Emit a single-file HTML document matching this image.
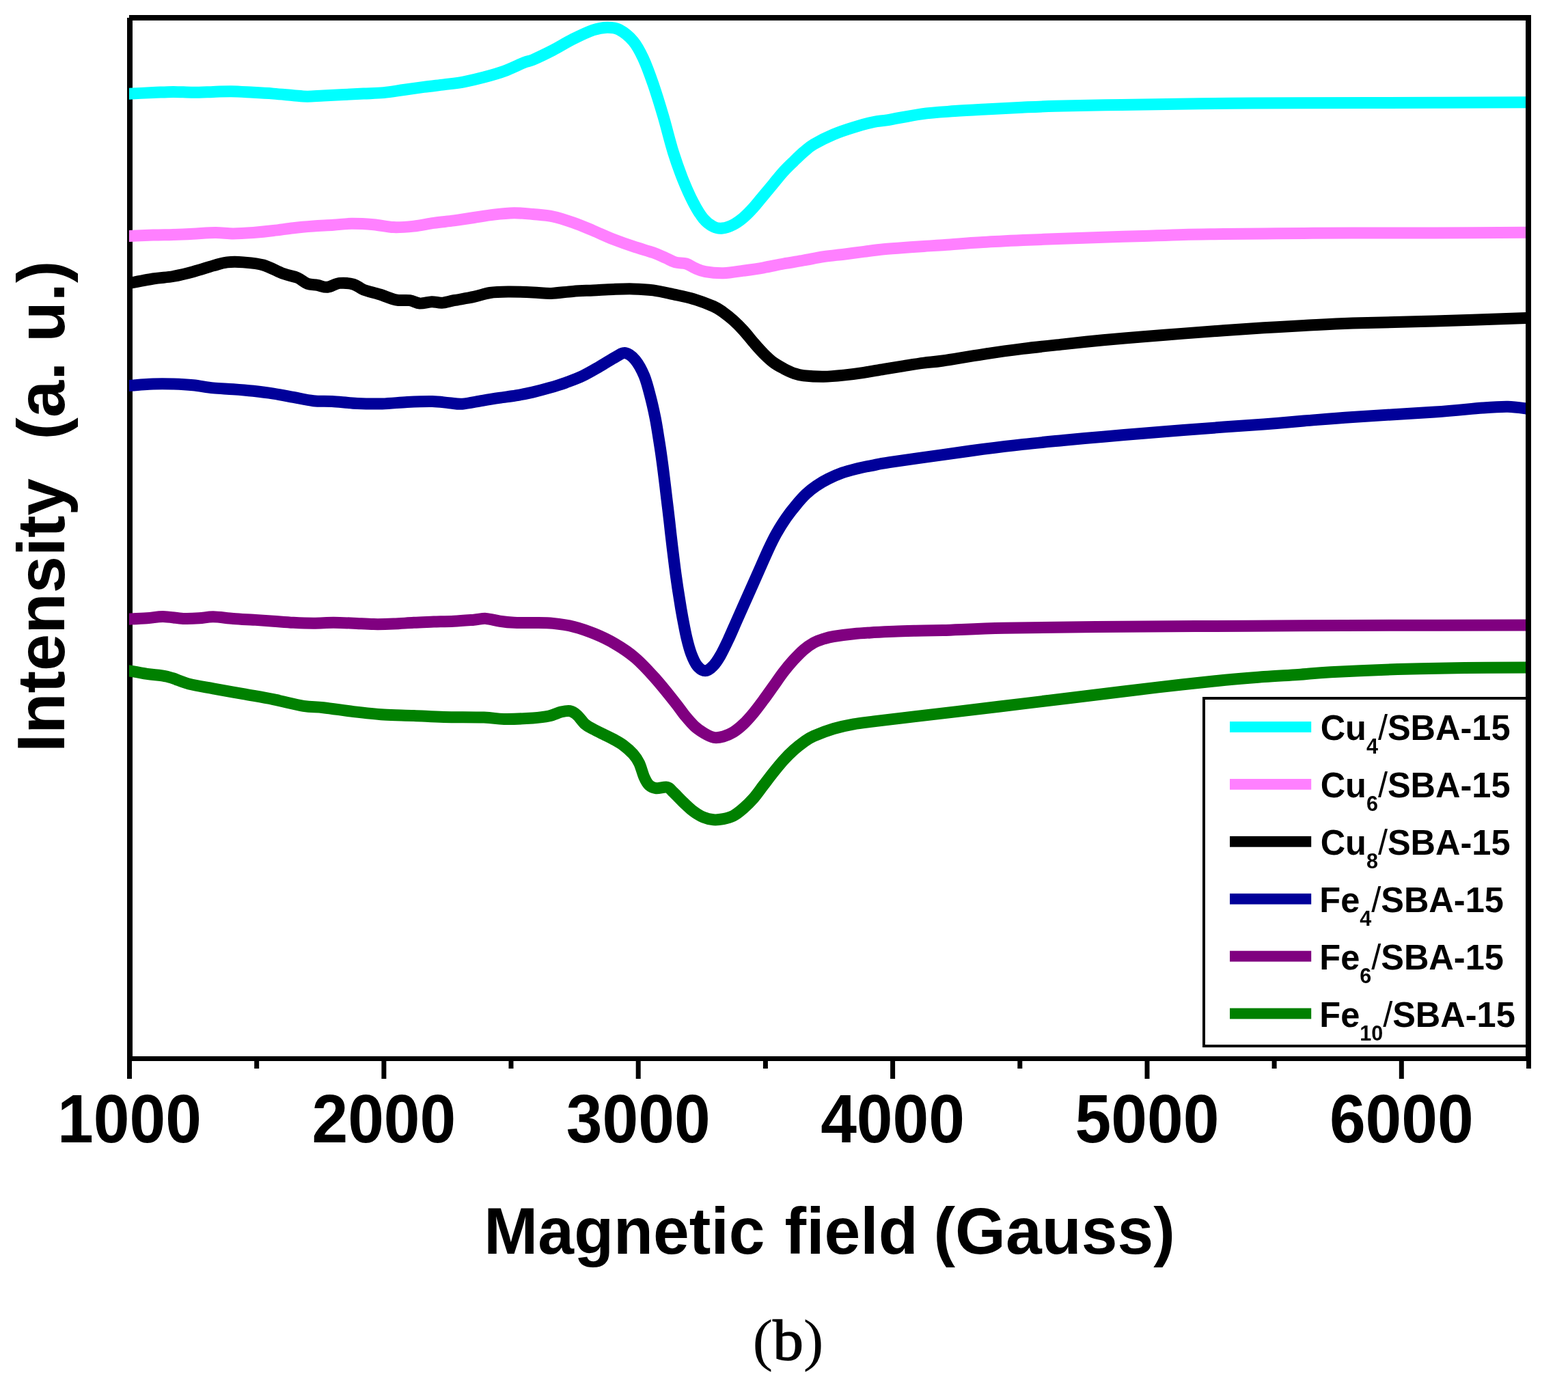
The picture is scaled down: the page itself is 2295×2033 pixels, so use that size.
<!DOCTYPE html>
<html lang="en"><head><meta charset="utf-8"><title>EPR spectra</title>
<style>
html,body{margin:0;padding:0;background:#fff;}
body{width:2295px;height:2033px;overflow:hidden;}
svg{display:block;}
text{font-family:"Liberation Sans",sans-serif;font-weight:bold;fill:#000;}
.cap{font-family:"Liberation Serif","DejaVu Serif",serif;font-weight:normal;}
</style></head><body>
<svg width="2295" height="2033" viewBox="0 0 2295 2033">
<rect x="0" y="0" width="2295" height="2033" fill="#fff"/>
<defs><clipPath id="plot"><rect x="189" y="26" width="2044" height="1520"/></clipPath></defs>
<g fill="#000">
<rect x="186" y="26" width="8" height="1527"/>
<rect x="189" y="22" width="2052" height="8"/>
<rect x="2233" y="26" width="8" height="1527"/>
<rect x="189" y="1546" width="2052" height="7"/>
<rect x="186.0" y="1552" width="7" height="27.0"/>
<rect x="372.2" y="1552" width="7" height="12.0"/>
<rect x="558.4" y="1552" width="7" height="27.0"/>
<rect x="744.5" y="1552" width="7" height="12.0"/>
<rect x="930.7" y="1552" width="7" height="27.0"/>
<rect x="1116.9" y="1552" width="7" height="12.0"/>
<rect x="1303.1" y="1552" width="7" height="27.0"/>
<rect x="1489.3" y="1552" width="7" height="12.0"/>
<rect x="1675.5" y="1552" width="7" height="27.0"/>
<rect x="1861.6" y="1552" width="7" height="12.0"/>
<rect x="2047.8" y="1552" width="7" height="27.0"/>
<rect x="2234.0" y="1552" width="7" height="12.0"/>
</g>
<g clip-path="url(#plot)" fill="none" stroke-width="17" stroke-linejoin="round" stroke-linecap="butt">
<path d="M183.0,137.4 C189.8,137.1 212.3,136.1 224.0,135.6 C235.8,135.1 243.6,134.5 253.4,134.4 C263.2,134.4 272.9,135.3 282.7,135.3 C292.5,135.3 302.8,134.7 312.1,134.4 C321.4,134.2 328.7,133.7 338.5,133.8 C348.3,134.0 360.5,134.8 370.8,135.3 C381.1,135.8 390.4,136.3 400.1,137.1 C409.9,137.8 421.2,139.0 429.5,139.7 C437.8,140.4 442.7,141.1 450.0,141.2 C457.4,141.2 464.7,140.4 473.5,140.0 C482.3,139.6 493.1,139.0 502.9,138.5 C512.6,138.0 522.4,137.6 532.2,137.1 C542.0,136.6 551.8,136.5 561.6,135.6 C571.4,134.7 581.1,132.9 590.9,131.5 C600.7,130.1 610.5,128.7 620.3,127.4 C630.1,126.1 639.8,125.1 649.6,123.9 C659.4,122.6 669.2,121.6 679.0,119.8 C688.8,117.9 698.5,115.6 708.3,113.0 C718.1,110.4 727.9,107.8 737.7,104.2 C747.5,100.6 760.0,94.4 767.0,91.6 C774.1,88.8 772.9,90.5 780.0,87.5 C787.1,84.4 799.6,78.4 809.4,73.4 C819.1,68.3 828.9,62.1 838.7,57.2 C848.5,52.3 859.7,46.9 868.1,44.0 C876.4,41.2 882.2,40.3 888.6,40.2 C895.0,40.1 899.9,40.1 906.2,43.4 C912.6,46.8 920.9,53.2 926.8,60.2 C932.6,67.1 936.5,74.6 941.4,85.1 C946.3,95.6 951.2,109.1 956.1,123.3 C961.0,137.5 965.9,153.6 970.8,170.2 C975.7,186.9 980.6,207.4 985.5,223.1 C990.4,238.7 995.2,251.9 1000.1,264.2 C1005.0,276.4 1009.9,287.2 1014.8,296.4 C1019.7,305.7 1024.6,314.1 1029.5,319.9 C1034.4,325.8 1039.5,329.3 1044.2,331.7 C1048.8,334.0 1052.5,334.5 1057.4,334.0 C1062.3,333.5 1068.4,331.3 1073.5,328.7 C1078.6,326.1 1083.3,322.6 1088.2,318.5 C1093.1,314.3 1098.0,309.2 1102.9,303.8 C1107.8,298.4 1112.6,292.0 1117.5,286.2 C1122.4,280.3 1127.3,274.4 1132.2,268.6 C1137.1,262.7 1142.0,256.3 1146.9,251.0 C1151.8,245.6 1156.7,241.0 1161.6,236.3 C1166.5,231.5 1171.4,226.6 1176.2,222.5 C1181.1,218.3 1183.6,215.6 1190.9,211.3 C1198.3,207.0 1210.5,200.8 1220.3,196.7 C1230.1,192.5 1239.8,189.4 1249.6,186.4 C1259.4,183.3 1270.6,180.3 1279.0,178.5 C1287.4,176.7 1288.3,177.5 1300.0,175.6 C1311.7,173.7 1332.6,169.0 1348.9,166.8 C1365.2,164.6 1381.5,163.8 1397.8,162.6 C1414.1,161.4 1430.5,160.6 1446.8,159.7 C1463.1,158.8 1479.4,157.9 1495.7,157.2 C1512.0,156.5 1524.2,155.9 1544.6,155.3 C1565.0,154.7 1593.5,154.1 1618.0,153.7 C1642.5,153.3 1661.1,153.2 1691.4,152.8 C1721.7,152.4 1765.2,151.5 1800.0,151.2 C1834.8,150.9 1850.0,151.0 1900.0,150.8 C1950.0,150.6 2043.8,150.4 2100.0,150.2 C2156.2,150.0 2214.2,149.9 2237.0,149.8" stroke="#00FFFF"/>
<path d="M183.0,345.8 C189.8,345.5 212.3,344.4 224.0,344.0 C235.8,343.6 243.6,343.7 253.4,343.4 C263.2,343.1 272.5,342.7 282.7,342.2 C293.0,341.7 305.2,340.5 315.0,340.5 C324.8,340.4 332.1,341.9 341.4,341.9 C350.7,341.9 361.0,341.2 370.8,340.5 C380.6,339.7 390.4,338.7 400.1,337.5 C409.9,336.4 419.7,334.8 429.5,333.7 C439.3,332.6 449.1,331.8 458.8,331.1 C468.6,330.3 478.9,330.0 488.2,329.3 C497.5,328.7 504.8,327.4 514.6,327.3 C524.4,327.2 536.6,327.9 546.9,328.7 C557.2,329.6 566.5,332.2 576.2,332.6 C586.0,332.9 595.8,332.1 605.6,331.1 C615.4,330.1 625.2,327.8 634.9,326.4 C644.7,325.0 654.5,324.2 664.3,322.9 C674.1,321.5 683.9,319.9 693.6,318.5 C703.4,317.0 713.2,315.2 723.0,314.1 C732.8,312.9 742.9,311.8 752.4,311.7 C761.9,311.6 770.5,312.6 780.0,313.5 C789.5,314.4 799.6,314.9 809.4,317.0 C819.1,319.0 828.9,322.4 838.7,325.8 C848.5,329.2 858.3,333.5 868.1,337.5 C877.8,341.6 887.6,346.3 897.4,350.2 C907.2,354.0 917.0,357.5 926.8,360.7 C936.5,364.0 948.3,367.1 956.1,369.8 C963.9,372.6 968.3,374.8 973.7,377.2 C979.1,379.5 983.3,382.4 988.4,383.9 C993.5,385.4 999.6,384.5 1004.5,386.0 C1009.4,387.4 1013.1,390.8 1017.7,392.7 C1022.4,394.7 1025.6,396.5 1032.4,397.7 C1039.3,398.9 1049.5,400.0 1058.8,399.8 C1068.1,399.5 1078.4,397.6 1088.2,396.2 C1098.0,394.9 1107.8,393.6 1117.5,391.8 C1127.3,390.1 1137.1,387.8 1146.9,386.0 C1156.7,384.2 1166.5,382.7 1176.2,381.0 C1186.0,379.3 1195.8,377.2 1205.6,375.7 C1215.4,374.2 1225.2,373.4 1234.9,372.2 C1244.7,371.0 1254.5,369.6 1264.3,368.4 C1274.1,367.1 1283.9,365.8 1293.6,364.8 C1303.4,363.9 1313.2,363.2 1323.0,362.5 C1332.8,361.8 1342.9,361.1 1352.4,360.4 C1361.9,359.8 1365.6,359.7 1380.0,358.7 C1394.4,357.7 1419.1,355.7 1438.7,354.6 C1458.3,353.4 1477.8,352.5 1497.4,351.6 C1517.0,350.7 1536.5,350.0 1556.1,349.3 C1575.7,348.5 1595.2,347.9 1614.8,347.2 C1634.4,346.6 1653.9,346.1 1673.5,345.5 C1693.1,344.8 1712.6,343.9 1732.2,343.4 C1751.8,342.9 1771.4,342.8 1790.9,342.5 C1810.5,342.3 1830.1,342.1 1849.6,341.9 C1869.2,341.7 1886.6,341.5 1908.3,341.4 C1930.0,341.2 1948.0,341.1 1979.9,341.1 C2011.9,341.0 2057.2,341.1 2100.0,341.0 C2142.8,340.9 2214.2,340.3 2237.0,340.2" stroke="#FF80FF"/>
<path d="M183.0,415.8 C189.8,414.5 212.3,409.9 224.0,408.0 C235.8,406.1 243.6,406.2 253.4,404.5 C263.2,402.7 272.9,400.3 282.7,397.7 C292.5,395.1 303.8,391.2 312.1,388.9 C320.4,386.6 325.3,384.7 332.6,383.9 C340.0,383.1 347.3,383.2 356.1,383.9 C364.9,384.6 375.7,385.2 385.5,388.0 C395.2,390.8 406.5,397.6 414.8,400.6 C423.1,403.7 429.5,404.1 435.4,406.5 C441.2,409.0 445.1,413.5 450.0,415.3 C454.9,417.1 459.8,416.5 464.7,417.4 C469.6,418.2 474.0,420.8 479.4,420.3 C484.8,419.8 490.6,415.1 497.0,414.4 C503.4,413.8 511.7,414.6 517.5,416.2 C523.4,417.8 525.9,421.7 532.2,424.1 C538.6,426.6 547.9,428.4 555.7,430.9 C563.5,433.3 571.8,437.3 579.2,438.8 C586.5,440.3 593.9,438.8 599.7,439.7 C605.6,440.6 609.0,443.7 614.4,444.1 C619.8,444.4 626.6,441.9 632.0,441.7 C637.4,441.6 641.3,443.5 646.7,443.2 C652.1,442.9 656.5,441.2 664.3,439.7 C672.1,438.2 684.8,436.3 693.6,434.4 C702.5,432.5 708.8,429.8 717.1,428.5 C725.4,427.3 733.1,427.2 743.5,427.1 C754.0,427.0 769.5,427.5 780.0,427.9 C790.5,428.3 796.6,429.6 806.4,429.4 C816.2,429.1 828.4,427.1 838.7,426.4 C849.0,425.7 858.3,425.4 868.1,424.9 C877.8,424.5 887.6,423.8 897.4,423.5 C907.2,423.1 917.0,422.6 926.8,422.9 C936.5,423.1 946.3,423.6 956.1,424.9 C965.9,426.3 975.7,428.7 985.5,430.8 C995.2,432.9 1005.0,434.6 1014.8,437.6 C1024.6,440.5 1036.8,445.2 1044.2,448.4 C1051.5,451.7 1053.9,453.8 1058.8,457.2 C1063.7,460.7 1068.6,464.6 1073.5,469.0 C1078.4,473.4 1083.3,478.3 1088.2,483.7 C1093.1,489.0 1098.0,495.6 1102.9,501.3 C1107.8,506.9 1112.6,512.5 1117.5,517.4 C1122.4,522.3 1127.3,526.9 1132.2,530.6 C1137.1,534.3 1142.0,536.8 1146.9,539.4 C1151.8,542.0 1156.7,544.5 1161.6,546.2 C1166.5,547.9 1168.9,548.9 1176.2,549.7 C1183.6,550.5 1195.8,551.3 1205.6,551.2 C1215.4,551.1 1225.2,550.1 1234.9,549.1 C1244.7,548.1 1254.5,546.8 1264.3,545.3 C1274.1,543.8 1283.9,541.9 1293.6,540.3 C1303.4,538.7 1313.2,537.1 1323.0,535.6 C1332.8,534.1 1342.9,532.5 1352.4,531.2 C1361.9,529.9 1365.6,530.1 1380.0,528.0 C1394.4,525.9 1419.1,521.5 1438.7,518.6 C1458.3,515.6 1477.8,512.8 1497.4,510.4 C1517.0,507.9 1536.5,506.0 1556.1,503.9 C1575.7,501.8 1595.2,499.6 1614.8,497.7 C1634.4,495.9 1653.9,494.4 1673.5,492.8 C1693.1,491.1 1712.6,489.6 1732.2,488.1 C1751.8,486.5 1771.4,485.0 1790.9,483.7 C1810.5,482.3 1830.1,481.0 1849.6,479.8 C1869.2,478.7 1886.6,477.7 1908.3,476.6 C1930.0,475.5 1948.0,474.2 1979.9,473.1 C2011.9,472.0 2057.2,471.3 2100.0,470.0 C2142.8,468.7 2214.2,466.2 2237.0,465.4" stroke="#000000"/>
<path d="M183.0,564.9 C189.8,564.4 212.3,562.5 224.0,562.0 C235.8,561.5 243.6,561.7 253.4,562.0 C263.2,562.3 272.9,562.8 282.7,563.8 C292.5,564.8 302.3,566.9 312.1,567.9 C321.9,568.9 331.6,568.9 341.4,569.7 C351.2,570.4 361.0,571.2 370.8,572.3 C380.6,573.4 390.4,574.6 400.1,576.1 C409.9,577.6 419.7,579.6 429.5,581.4 C439.3,583.2 449.4,585.7 458.8,586.7 C468.3,587.7 475.4,586.9 486.0,587.5 C496.6,588.1 510.5,589.9 522.7,590.4 C534.9,591.0 547.2,591.3 559.4,590.9 C571.6,590.6 583.8,589.1 596.1,588.5 C608.3,587.9 622.6,587.3 632.8,587.5 C643.0,587.7 649.9,589.1 657.2,589.7 C664.6,590.3 668.6,591.7 676.8,591.2 C685.0,590.6 697.2,587.7 706.2,586.3 C715.1,584.8 722.5,583.6 730.6,582.4 C738.8,581.1 746.9,580.3 755.1,578.9 C763.2,577.6 771.4,575.9 779.5,574.1 C787.7,572.2 795.8,570.1 804.0,567.7 C812.2,565.3 820.3,562.8 828.5,559.9 C836.6,556.9 844.8,554.0 852.9,550.1 C861.1,546.2 869.2,541.3 877.4,536.6 C885.5,531.9 895.6,525.3 901.9,521.9 C908.1,518.6 910.5,515.8 915.2,516.6 C919.8,517.4 925.2,521.2 929.8,526.8 C934.4,532.4 939.3,541.4 943.0,550.2 C946.6,559.0 949.1,569.2 951.7,579.5 C954.4,589.7 957.0,601.4 959.1,611.7 C961.1,621.9 962.5,631.2 964.0,640.9 C965.6,650.7 967.1,660.4 968.4,670.2 C969.8,680.0 971.0,689.7 972.2,699.5 C973.4,709.2 974.6,719.0 975.7,728.7 C976.9,738.5 978.1,748.2 979.2,758.0 C980.4,767.7 981.3,777.5 982.5,787.2 C983.6,797.0 984.8,806.7 986.0,816.5 C987.2,826.3 988.4,836.0 989.8,845.8 C991.1,855.5 992.6,865.3 994.2,875.0 C995.7,884.8 997.3,894.5 999.1,904.3 C1001.0,914.0 1002.9,924.8 1005.0,933.5 C1007.1,942.3 1009.1,950.1 1011.7,957.0 C1014.3,963.8 1017.1,970.4 1020.5,974.5 C1023.9,978.7 1028.3,981.8 1032.2,981.8 C1036.1,981.8 1040.3,978.2 1043.9,974.5 C1047.6,970.9 1050.5,966.2 1054.2,959.9 C1057.8,953.5 1062.0,944.8 1065.9,936.5 C1069.8,928.2 1073.7,918.9 1077.6,910.1 C1081.5,901.4 1085.4,892.6 1089.3,883.8 C1093.2,875.0 1097.1,866.2 1101.0,857.5 C1104.9,848.7 1108.8,839.9 1112.7,831.1 C1116.6,822.4 1120.5,813.1 1124.4,804.8 C1128.3,796.5 1131.7,789.2 1136.1,781.4 C1140.5,773.6 1145.8,765.1 1150.7,758.0 C1155.6,750.9 1160.5,744.8 1165.4,739.0 C1170.2,733.1 1175.1,727.5 1180.0,722.9 C1184.9,718.2 1189.2,714.8 1194.6,711.2 C1200.0,707.5 1205.8,704.1 1212.2,700.9 C1218.5,697.8 1225.8,694.6 1232.7,692.1 C1239.5,689.7 1245.8,688.1 1253.1,686.3 C1260.4,684.5 1268.4,682.9 1276.5,681.3 C1284.7,679.7 1284.8,679.2 1302.0,676.6 C1319.2,674.0 1357.2,668.8 1380.0,665.6 C1402.8,662.4 1419.1,660.0 1438.7,657.4 C1458.3,654.9 1477.8,652.5 1497.4,650.4 C1517.0,648.2 1536.5,646.4 1556.1,644.5 C1575.7,642.6 1595.2,640.9 1614.8,639.2 C1634.4,637.5 1653.9,635.8 1673.5,634.2 C1693.1,632.6 1712.6,631.0 1732.2,629.5 C1751.8,628.0 1771.4,626.5 1790.9,625.1 C1810.5,623.7 1830.1,622.5 1849.6,621.0 C1869.2,619.5 1886.6,617.8 1908.3,616.0 C1930.0,614.3 1948.0,612.6 1979.9,610.4 C2011.9,608.3 2068.3,605.2 2100.0,603.0 C2131.7,600.8 2152.2,598.3 2170.0,597.0 C2187.8,595.7 2195.8,595.1 2207.0,595.3 C2218.2,595.5 2232.0,597.9 2237.0,598.4" stroke="#000099"/>
<path d="M183.0,906.4 C188.4,906.1 205.9,905.5 215.2,904.8 C224.5,904.2 229.9,902.4 238.7,902.5 C247.5,902.6 259.2,905.0 268.1,905.4 C276.9,905.8 284.2,905.3 291.5,904.8 C298.9,904.4 303.8,902.7 312.1,902.8 C320.4,902.9 331.6,904.7 341.4,905.4 C351.2,906.2 361.0,906.6 370.8,907.2 C380.6,907.8 390.4,908.6 400.1,909.2 C409.9,909.9 419.7,910.8 429.5,911.3 C439.3,911.8 449.1,912.2 458.8,912.2 C468.6,912.2 478.4,911.3 488.2,911.3 C498.0,911.3 507.8,911.8 517.5,912.2 C527.3,912.6 537.1,913.5 546.9,913.6 C556.7,913.8 566.5,913.5 576.2,913.1 C586.0,912.7 595.8,911.8 605.6,911.3 C615.4,910.8 625.2,910.5 634.9,910.1 C644.7,909.8 654.5,909.7 664.3,909.2 C674.1,908.8 685.8,907.8 693.6,907.2 C701.5,906.6 704.9,905.1 711.3,905.4 C717.6,905.8 725.0,908.3 731.8,909.2 C738.7,910.2 744.3,910.9 752.4,911.3 C760.4,911.7 770.5,911.3 780.0,911.5 C789.5,911.7 799.3,911.4 809.4,912.4 C819.4,913.4 830.0,914.9 840.2,917.4 C850.3,919.9 860.4,923.5 870.4,927.7 C880.4,931.8 890.5,936.5 900.3,942.4 C910.2,948.2 920.0,954.6 929.7,962.9 C939.4,971.2 948.8,981.5 958.5,992.3 C968.1,1003.0 980.3,1018.4 987.5,1027.5 C994.8,1036.5 997.1,1040.7 1001.9,1046.6 C1006.7,1052.4 1011.5,1058.3 1016.3,1062.7 C1021.0,1067.1 1025.6,1070.2 1030.4,1073.0 C1035.1,1075.8 1040.0,1078.6 1044.7,1079.4 C1049.5,1080.3 1054.0,1079.3 1058.8,1078.0 C1063.6,1076.6 1068.6,1074.5 1073.5,1071.5 C1078.4,1068.5 1083.3,1064.4 1088.2,1059.8 C1093.1,1055.1 1098.0,1049.5 1102.9,1043.6 C1107.8,1037.7 1112.6,1031.1 1117.5,1024.5 C1122.4,1017.9 1127.3,1010.8 1132.2,1004.0 C1137.1,997.1 1142.0,989.8 1146.9,983.4 C1151.8,977.1 1156.7,971.2 1161.6,965.8 C1166.5,960.5 1171.4,955.3 1176.2,951.2 C1181.1,947.0 1186.0,943.6 1190.9,940.9 C1195.8,938.2 1200.7,936.6 1205.6,935.0 C1210.5,933.5 1212.9,932.7 1220.3,931.5 C1227.6,930.3 1239.8,928.7 1249.6,927.7 C1259.4,926.7 1269.2,926.2 1279.0,925.6 C1288.8,925.0 1298.5,924.5 1308.3,924.2 C1318.1,923.8 1325.7,923.6 1337.7,923.3 C1349.6,923.0 1358.0,923.1 1380.0,922.5 C1402.0,921.8 1432.2,920.2 1469.5,919.3 C1506.8,918.5 1544.1,918.1 1603.8,917.6 C1663.5,917.0 1753.0,916.6 1827.6,916.2 C1902.3,915.8 1983.2,915.5 2051.5,915.3 C2119.7,915.1 2206.3,914.9 2237.2,914.9" stroke="#800080"/>
<path d="M183.0,980.7 C188.4,981.6 205.0,984.8 215.2,986.4 C225.5,988.0 234.3,987.8 244.6,990.2 C254.8,992.6 265.6,998.1 276.9,1001.1 C288.1,1004.0 298.9,1005.4 312.1,1007.8 C325.3,1010.3 341.4,1013.1 356.1,1015.7 C370.8,1018.4 385.5,1020.7 400.1,1023.7 C414.8,1026.6 431.9,1031.3 444.2,1033.3 C456.4,1035.3 461.3,1034.3 473.5,1035.7 C485.7,1037.1 502.9,1039.8 517.5,1041.6 C532.2,1043.3 546.9,1045.0 561.6,1046.0 C576.2,1046.9 590.9,1046.8 605.6,1047.4 C620.3,1048.0 632.5,1049.0 649.6,1049.5 C666.7,1049.9 693.6,1049.6 708.3,1050.1 C723.0,1050.6 725.7,1052.3 737.7,1052.4 C749.6,1052.6 769.0,1051.7 780.0,1051.0 C791.0,1050.2 796.6,1049.5 803.5,1048.0 C810.3,1046.6 816.0,1043.4 821.1,1042.1 C826.2,1040.9 830.4,1039.9 834.3,1040.7 C838.2,1041.4 840.9,1043.4 844.6,1046.6 C848.2,1049.7 852.4,1056.3 856.3,1059.8 C860.2,1063.2 863.7,1064.7 868.1,1067.1 C872.5,1069.5 877.8,1072.0 882.7,1074.4 C887.6,1076.9 892.5,1079.1 897.4,1081.8 C902.3,1084.5 907.2,1086.9 912.1,1090.6 C917.0,1094.2 922.8,1099.4 926.8,1103.8 C930.7,1108.2 932.9,1111.4 935.6,1117.0 C938.3,1122.6 940.5,1132.2 942.9,1137.5 C945.3,1142.9 947.3,1146.6 950.2,1149.3 C953.2,1152.0 956.1,1153.2 960.5,1153.7 C964.9,1154.2 972.5,1151.2 976.7,1152.2 C980.8,1153.2 981.5,1155.9 985.5,1159.6 C989.4,1163.2 995.2,1169.6 1000.1,1174.2 C1005.0,1178.9 1009.9,1183.8 1014.8,1187.4 C1019.7,1191.1 1024.6,1194.2 1029.5,1196.2 C1034.4,1198.3 1039.3,1199.4 1044.2,1199.8 C1049.1,1200.2 1053.9,1199.6 1058.8,1198.6 C1063.7,1197.6 1068.6,1196.5 1073.5,1193.9 C1078.4,1191.3 1083.3,1187.3 1088.2,1183.0 C1093.1,1178.8 1098.0,1174.0 1102.9,1168.4 C1107.8,1162.7 1112.6,1155.6 1117.5,1149.3 C1122.4,1142.9 1127.3,1136.3 1132.2,1130.2 C1137.1,1124.1 1142.0,1118.0 1146.9,1112.6 C1151.8,1107.2 1156.7,1102.3 1161.6,1097.9 C1166.5,1093.5 1171.4,1089.6 1176.2,1086.2 C1181.1,1082.8 1183.6,1080.6 1190.9,1077.4 C1198.3,1074.1 1210.5,1069.4 1220.3,1066.5 C1230.1,1063.6 1239.8,1061.5 1249.6,1059.8 C1259.4,1058.0 1269.2,1057.2 1279.0,1055.9 C1288.8,1054.7 1298.5,1053.6 1308.3,1052.4 C1318.1,1051.2 1322.4,1050.7 1337.7,1048.9 C1353.0,1047.1 1372.9,1044.8 1400.0,1041.6 C1427.1,1038.4 1467.0,1033.6 1500.0,1029.6 C1533.0,1025.6 1565.2,1021.7 1597.8,1017.7 C1630.4,1013.8 1663.1,1009.6 1695.7,1005.9 C1728.3,1002.1 1767.8,997.8 1793.5,995.2 C1819.2,992.7 1832.2,991.9 1850.0,990.6 C1867.8,989.3 1883.7,988.6 1900.0,987.5 C1916.3,986.4 1923.5,985.0 1947.8,983.7 C1972.1,982.4 2013.1,980.6 2045.7,979.6 C2078.3,978.6 2111.6,977.9 2143.5,977.5 C2175.4,977.1 2221.4,977.2 2237.0,977.1" stroke="#008000"/>
</g>
<rect x="1762.0" y="1022.0" width="473.0" height="509.0" fill="#fff" stroke="#000" stroke-width="4"/>
<rect x="1800" y="1056.1" width="119.2" height="15.8" fill="#00FFFF"/>
<text transform="translate(1932.63,1083.05) scale(1,1.0400)" font-size="50.50" text-anchor="start">Cu<tspan font-size="30.5" dy="19.23">4</tspan><tspan dy="-19.23" font-weight="normal">/</tspan>SBA-15</text>
<rect x="1800" y="1140.0" width="119.2" height="15.8" fill="#FF80FF"/>
<text transform="translate(1932.63,1166.95) scale(1,1.0400)" font-size="50.50" text-anchor="start">Cu<tspan font-size="30.5" dy="19.23">6</tspan><tspan dy="-19.23" font-weight="normal">/</tspan>SBA-15</text>
<rect x="1800" y="1223.9" width="119.2" height="15.8" fill="#000000"/>
<text transform="translate(1932.63,1250.85) scale(1,1.0400)" font-size="50.50" text-anchor="start">Cu<tspan font-size="30.5" dy="19.23">8</tspan><tspan dy="-19.23" font-weight="normal">/</tspan>SBA-15</text>
<rect x="1800" y="1307.8" width="119.2" height="15.8" fill="#000099"/>
<text transform="translate(1931.32,1334.75) scale(1,1.0400)" font-size="50.50" text-anchor="start">Fe<tspan font-size="30.5" dy="19.23">4</tspan><tspan dy="-19.23" font-weight="normal">/</tspan>SBA-15</text>
<rect x="1800" y="1391.7" width="119.2" height="15.8" fill="#800080"/>
<text transform="translate(1931.32,1418.65) scale(1,1.0400)" font-size="50.50" text-anchor="start">Fe<tspan font-size="30.5" dy="19.23">6</tspan><tspan dy="-19.23" font-weight="normal">/</tspan>SBA-15</text>
<rect x="1800" y="1475.6" width="119.2" height="15.8" fill="#008000"/>
<text transform="translate(1931.32,1502.55) scale(1,1.0400)" font-size="50.50" text-anchor="start">Fe<tspan font-size="30.5" dy="19.23">10</tspan><tspan dy="-19.23" font-weight="normal">/</tspan>SBA-15</text>
<text transform="translate(189.50,1672.10) scale(1,1.0500)" font-size="94.80" text-anchor="middle">1000</text>
<text transform="translate(561.86,1672.10) scale(1,1.0500)" font-size="94.80" text-anchor="middle">2000</text>
<text transform="translate(934.23,1672.10) scale(1,1.0500)" font-size="94.80" text-anchor="middle">3000</text>
<text transform="translate(1306.59,1672.10) scale(1,1.0500)" font-size="94.80" text-anchor="middle">4000</text>
<text transform="translate(1678.95,1672.10) scale(1,1.0500)" font-size="94.80" text-anchor="middle">5000</text>
<text transform="translate(2051.32,1672.10) scale(1,1.0500)" font-size="94.80" text-anchor="middle">6000</text>
<text transform="translate(0,1835.1) scale(1,1.015)" font-size="94.90"><tspan x="708.32">Magnetic </tspan><tspan x="1148.63">field </tspan><tspan x="1366.49">(Gauss)</tspan></text>
<text transform="translate(94.30,0) rotate(-90) scale(1,1.015)" font-size="97.50"><tspan x="-1101.12">Intensity </tspan><tspan x="-643.46">(a. </tspan><tspan x="-500.75">u.)</tspan></text>
<text class="cap" transform="translate(1153.45,1989.5) scale(1.05,1)" font-size="85" text-anchor="middle" >(<tspan stroke="#000" stroke-width="1.5">b</tspan>)</text>
</svg></body></html>
